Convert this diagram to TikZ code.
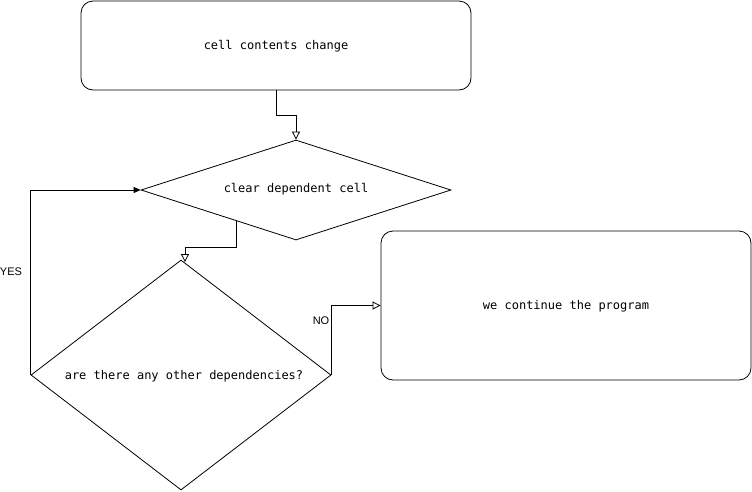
\documentclass[tikz,border=0pt]{standalone}
\usepackage{fontspec}
\setmainfont{Liberation Sans}
\newfontfamily\monof{DejaVu Sans Mono}
\usetikzlibrary{arrows.meta,shapes.geometric}
\begin{document}
\begin{tikzpicture}[x=1pt,y=-1pt,
  mono/.style={font=\monof\fontsize{12}{14}\selectfont},
  box/.style={draw,rounded corners=12pt,line width=0.8pt,inner sep=0pt,mono},
  dia/.style={draw,diamond,line width=0.8pt,inner sep=0pt},
  conn/.style={line width=0.8pt},
  openarr/.style={-{Triangle[open,length=8pt,width=8pt]}},
  fillarr/.style={-{Triangle[length=7pt,width=6pt]}},
  lbl/.style={font=\fontsize{11}{13}\selectfont,inner sep=0pt}]
\useasboundingbox (0,0) rectangle (752,491);
\node[box,minimum width=390pt,minimum height=89pt] (top) at (276,45.5) {};
\node[mono] (t0) at (276,46) {cell contents change};
\node[box,minimum width=370pt,minimum height=149pt] (cont) at (566,305.5) {};
\node[mono] (t3) at (566,306) {we continue the program};
\node[dia,minimum width=310pt,minimum height=100pt,aspect=3.1] (d1) at (296,190) {};
\node[mono] (t1) at (296,189) {clear dependent cell};
\node[dia,minimum width=300pt,minimum height=230pt,aspect=1.3] (d2) at (181,375) {};
\node[mono] (t2) at (184,376) {are there any other dependencies?};
\coordinate (a1) at (236,220.6);
\draw[conn,openarr] (top.south) |- (296,115) -- (d1.north);
\draw[conn,openarr] (a1) -- (236,247) -| ([xshift=4pt,yshift=-2.5pt]d2.north);
\draw[conn,fillarr] (d2.west) |- (d1.west);
\draw[conn,openarr] (d2.east) |- (cont.west);
\node[lbl] (yes) at (11,272) {YES};
\node[lbl] (no) at (321,321) {NO};
\end{tikzpicture}
\end{document}
